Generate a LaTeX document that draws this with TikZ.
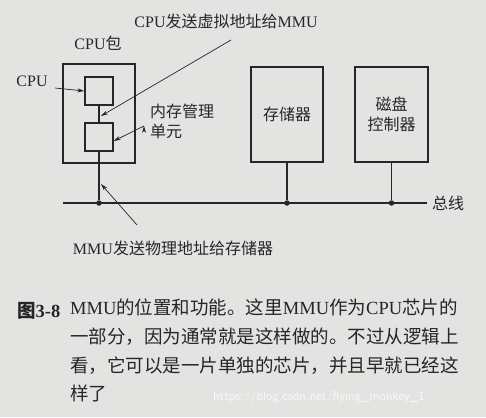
\documentclass[tikz,border=0pt]{standalone}
\usepackage{fontspec}
\setmainfont{Liberation Serif}
\newfontfamily\cjk{Noto Sans CJK SC}
\newcommand\zh[1]{{\cjk #1}}
\usetikzlibrary{arrows.meta,calc}
\definecolor{paper}{HTML}{E3E3E1}
\definecolor{ink}{HTML}{262626}

\begin{document}
\begin{tikzpicture}[x=1pt,y=-1pt,
  box/.style={draw=ink,line width=1.3pt,inner sep=0pt,align=center,
    font=\fontsize{16}{20}\selectfont,text=ink},
  lbl/.style={text=ink,font=\fontsize{16}{20}\selectfont,inner sep=0pt},
  ptr/.style={draw=ink,line width=0.7pt,-{Stealth[length=7pt,width=4pt]}},
  wire/.style={draw=ink,line width=1.3pt},
  tap/.style={circle,fill=ink,minimum size=5.5pt,inner sep=0pt}]
  \fill[paper] (0,0) rectangle (486,417);
  \useasboundingbox (0,0) rectangle (486,417);
  % boxes
  \node[box,minimum width=72pt,minimum height=99pt] (pkg) at (99,113.5) {};
  \node[box,minimum width=28pt,minimum height=28pt] (cpu) at (99,91) {};
  \node[box,minimum width=28pt,minimum height=28pt] (mmu) at (99,137) {};
  \node[box,minimum width=72pt,minimum height=95pt] (mem) at (287,114.5) {\zh{存储器}};
  \node[box,minimum width=73pt,minimum height=95pt] (disk) at (391.5,114.5) {\zh{磁盘}\\\zh{控制器}};
  % bus
  \coordinate (busL) at (63,203);
  \coordinate (busR) at (427,203);
  \node[tap] (t1) at (mmu.south |- busL) {};
  \node[tap] (t2) at (mem.south |- busL) {};
  \node[tap] (t3) at (disk.south |- busL) {};
  \draw[wire] (busL) -- (busR);
  \draw[wire] (cpu) -- (mmu);
  \draw[wire] (mmu) -- (t1);
  \draw[wire] (mem) -- (t2);
  \draw[wire] (disk) -- (t3);
  \node[lbl,anchor=west] (bus) at (432,203) {\zh{总线}};
  % labels
  \node[lbl] (virt) at (226,21) {CPU\zh{发送虚拟地址给}MMU};
  \node[lbl] (pkgname) at (98,43) {CPU\zh{包}};
  \node[lbl] (cpuname) at (32,81) {CPU};
  \node[lbl,align=left,anchor=north west] (mmuname) at (150,104) {\zh{内存管理}\\\zh{单元}};
  \node[lbl] (phys) at (173,248) {MMU\zh{发送物理地址给存储器}};
  % pointers
  \coordinate (vhit) at (101,116);
  \coordinate (phit) at (101,184);
  \coordinate (vtail) at (231,40);
  \coordinate (ptail) at (137,225);
  \path[ptr]
    (vtail) edge (vhit)
    (ptail) edge (phit)
    (55,88) edge (cpu.west)
    (144,126) edge ([yshift=-4pt]mmu.east)
    ;
  % caption
  \node[text=ink,anchor=west,inner sep=0pt,font=\fontsize{18.5}{29}\selectfont\bfseries] (fig) at (17,311) {\zh{图}3-8};
  \node[text=ink,anchor=north west,inner sep=0pt,align=left,font=\fontsize{18.5}{28.7}\selectfont] (cap) at (70,299)
    {MMU\zh{的位置和功能。这里}MMU\zh{作为}CPU\zh{芯片的}\\
     \zh{一部分，因为通常就是这样做的。不过从逻辑上}\\
     \zh{看，它可以是一片单独的芯片，并且早就已经这}\\
     \zh{样了}};
  \node[text=white!80!paper,anchor=west,inner sep=0pt,font=\sffamily\fontsize{13}{15}\selectfont] (mark) at (213,397) {https://blog.csdn.net/flying\_monkey\_1};
\end{tikzpicture}
\end{document}
